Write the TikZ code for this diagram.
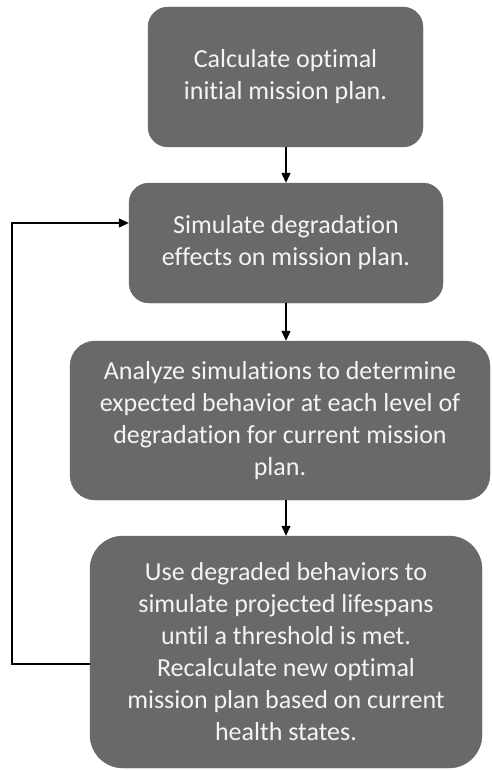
\documentclass[tikz,border=0pt]{standalone}
\usepackage{fontspec}
\setmainfont{Carlito}[Ligatures=NoCommon]
\usetikzlibrary{arrows.meta}
\definecolor{boxgray}{HTML}{696969}
\definecolor{txt}{HTML}{F4F4F0}
\tikzset{
  stepbox/.style={fill=boxgray, draw=boxgray, text=txt, align=center, inner sep=0pt,
    font=\fontsize{26}{32}\selectfont},
  conn/.style={line width=1.2pt, -{Triangle[length=10pt,width=9pt]}}
}
\begin{document}
\begin{tikzpicture}[x=1pt,y=-1pt]
\useasboundingbox (0,0) rectangle (491,770);
\node[stepbox, rounded corners=20pt, minimum width=275pt, minimum height=140pt] (b1) at (285.5,77)
  {Calculate optimal\\initial mission plan.};
\node[stepbox, rounded corners=20pt, minimum width=314pt, minimum height=120pt] (b2) at (286,243)
  {Simulate degradation\\effects on mission plan.};
\node[stepbox, rounded corners=25pt, minimum width=420pt, minimum height=159pt] (b3) at (280,420.5)
  {Analyze simulations to determine\\expected behavior at each level of\\degradation for current mission\\plan.};
\node[stepbox, rounded corners=33pt, minimum width=392pt, minimum height=232pt] (b4) at (286,652)
  {Use degraded behaviors to\\simulate projected lifespans\\until a threshold is met.\\Recalculate new optimal\\mission plan based on current\\health states.};
\coordinate (lb) at (12,664);
\coordinate (lt) at (12,223);
\draw[conn] (b1.south -| 286,0) -- (b2.north -| 286,0);
\draw[conn] (b2.south -| 286,0) -- (b3.north -| 286,0);
\draw[conn] (b3.south -| 286,0) -- (b4.north -| 286,0);
\draw[conn] (b4.west |- lb) -- (lb) -- (lt) -- (b2.west |- lt);
\end{tikzpicture}
\end{document}
